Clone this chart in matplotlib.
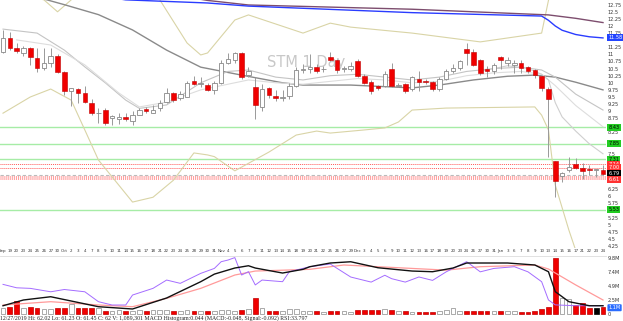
import matplotlib
matplotlib.use("Agg")
import matplotlib.pyplot as plt
import matplotlib.transforms as mtransforms
import numpy as np
import pandas as pd

# trading days shown on the chart
holidays = ["2019-11-28", "2019-12-25", "2020-01-01", "2020-01-20"]
dates = pd.bdate_range("2019-09-18", "2020-01-24")
dates = dates[~dates.isin(pd.to_datetime(holidays))]

opens = [11.08, 11.58, 11.21, 11.04, 11.22, 10.87, 10.52, 10.70, 10.95, 10.38,
         9.71, 9.78, 9.64, 9.28, 8.92, 9.03, 8.75, 8.71, 8.78, 8.65,
         8.87, 9.07, 8.93, 9.10, 9.32, 9.64, 9.45, 9.50, 10.05, 9.95,
         9.92, 9.75, 10.00, 10.70, 10.80, 11.05, 10.27, 9.85, 9.15, 9.80,
         9.52, 9.47, 9.55, 9.90, 10.45, 10.50, 10.55, 10.47, 10.90, 10.80,
         10.48, 10.50, 10.78, 10.24, 10.02, 9.88, 9.88, 10.50, 9.90, 9.97,
         9.78, 10.15, 10.07, 10.02, 9.78, 10.15, 10.42, 10.52, 11.20, 11.10,
         10.80, 10.49, 10.42, 10.90, 10.70, 10.62, 10.70, 10.55, 10.45, 10.24,
         9.78, 7.24, 6.72, 6.93, 7.14, 7.00, 6.97, 6.94, 6.93]
highs = [11.86, 11.79, 11.40, 11.28, 11.26, 11.22, 11.22, 11.22, 11.00, 10.40,
         9.80, 9.82, 9.87, 9.42, 9.10, 9.10, 8.88, 8.95, 8.95, 9.00,
         9.10, 9.15, 9.22, 9.40, 9.80, 9.68, 9.70, 10.05, 10.25, 10.20,
         10.00, 10.05, 10.80, 11.05, 11.10, 11.10, 10.55, 10.20, 9.95, 9.85,
         9.75, 9.75, 10.00, 10.55, 10.65, 11.00, 10.65, 10.60, 11.10, 10.85,
         10.60, 10.72, 10.85, 10.30, 10.10, 9.92, 10.40, 10.70, 10.00, 10.00,
         10.25, 10.40, 10.12, 10.07, 10.20, 10.50, 10.65, 10.80, 11.40, 11.20,
         10.85, 10.60, 10.70, 10.95, 10.90, 10.80, 10.80, 10.60, 10.50, 10.28,
         9.85, 7.25, 6.85, 7.38, 7.35, 7.17, 7.12, 6.96, 7.12]
lows = [11.05, 11.16, 11.05, 10.95, 10.62, 10.38, 10.45, 10.56, 10.35, 9.57,
        9.18, 9.28, 9.28, 8.88, 8.57, 8.50, 8.50, 8.55, 8.65, 8.50,
        8.85, 8.95, 8.93, 9.00, 9.28, 9.34, 9.38, 9.50, 9.92, 9.85,
        9.70, 9.62, 9.95, 10.65, 10.70, 10.15, 10.22, 8.72, 9.00, 9.48,
        9.35, 9.35, 9.43, 9.85, 10.35, 10.35, 10.35, 10.38, 10.75, 10.35,
        10.38, 10.42, 10.20, 9.95, 9.62, 9.75, 9.85, 9.85, 9.85, 9.63,
        9.72, 9.70, 9.95, 9.72, 9.72, 10.10, 10.35, 10.45, 10.62, 10.60,
        10.28, 10.20, 10.30, 10.50, 10.60, 10.35, 10.35, 10.35, 10.18, 9.72,
        7.38, 5.97, 6.50, 6.85, 6.95, 6.62, 6.75, 6.67, 6.74]
closes = [11.58, 11.23, 11.13, 11.24, 10.91, 10.52, 10.70, 10.95, 10.38, 9.71,
          9.80, 9.64, 9.32, 8.93, 8.95, 8.58, 8.82, 8.81, 8.72, 8.87,
          9.04, 9.00, 9.04, 9.28, 9.64, 9.40, 9.60, 10.00, 9.95, 9.98,
          9.75, 10.00, 10.70, 10.83, 11.06, 10.20, 10.42, 9.22, 9.78, 9.57,
          9.47, 9.50, 9.88, 10.45, 10.50, 10.55, 10.42, 10.50, 10.80, 10.45,
          10.50, 10.60, 10.24, 10.00, 9.72, 9.80, 10.30, 9.88, 9.93, 9.72,
          10.20, 10.03, 10.02, 9.78, 10.15, 10.40, 10.52, 10.78, 11.06, 10.62,
          10.35, 10.42, 10.62, 10.80, 10.80, 10.70, 10.52, 10.42, 10.27, 9.80,
          9.43, 6.54, 6.82, 7.03, 7.00, 6.90, 6.93, 6.95, 6.79]
volume_m = [1.0, 1.3, 2.2, 1.0, 1.3, 1.0, 0.9, 0.9, 1.0, 1.1,
            1.75, 1.0, 1.0, 1.1, 1.0, 0.6, 0.5, 0.7, 0.5, 0.5,
            0.7, 0.5, 0.7, 0.7, 0.7, 0.5, 0.6, 0.7, 0.6, 0.5,
            0.5, 0.5, 0.7, 0.7, 0.6, 0.7, 0.9, 2.75, 1.1, 0.5,
            0.5, 0.5, 0.9, 0.9, 0.6, 0.6, 0.6, 0.4, 0.6, 0.6,
            0.5, 0.4, 0.7, 0.7, 0.7, 0.7, 0.9, 0.7, 0.6, 0.5,
            0.4, 0.4, 0.4, 0.4, 0.6, 0.7, 1.0, 0.5, 0.6, 0.6,
            0.6, 0.5, 0.6, 0.6, 0.6, 0.5, 0.4, 0.4, 0.5, 0.9,
            1.3, 9.8, 2.8, 2.7, 1.55, 1.9, 1.1, 1.0, 1.2]
black_vol_bar = 87

# moving averages / bands (read at selected bars)
ma50_idx = [0, 6, 9, 14, 19, 24, 29, 35, 41, 44, 51, 60, 64, 69, 74, 78, 81, 84, 88]
ma50_val = [13.4, 12.95, 12.75, 12.40, 11.86, 11.15, 10.55, 10.27, 10.0, 9.92,
            9.92, 9.82, 9.92, 10.10, 10.23, 10.27, 10.2, 10.02, 9.75]
ma_a_idx = [0, 5, 9, 12, 15, 18, 20, 24, 29, 33, 36, 40, 44, 48, 52, 56, 60, 64, 68, 72, 76, 79, 81, 84, 88]
ma_a_val = [11.89, 11.75, 11.15, 10.56, 10.0, 9.39, 9.1, 9.22, 10.0, 10.4, 10.45, 10.2, 10.1,
            10.25, 10.3, 10.2, 10.1, 10.2, 10.4, 10.5, 10.55, 10.45, 10.2, 9.6, 9.04]
ma_b_idx = [2, 7, 12, 17, 20, 24, 29, 33, 36, 40, 44, 48, 52, 56, 60, 64, 68, 72, 76, 79, 81, 84, 88]
ma_b_val = [11.51, 11.33, 10.63, 9.64, 9.15, 9.32, 9.75, 9.95, 10.1, 10.0, 9.95, 10.05,
            10.15, 10.1, 10.0, 10.05, 10.25, 10.35, 10.4, 10.3, 9.9, 9.2, 8.45]
ma_c_idx = [70, 74, 77, 79, 80, 81, 82, 84, 86, 88]
ma_c_val = [10.4, 10.6, 10.5, 10.3, 10.1, 9.3, 8.8, 8.3, 7.85, 7.5]
blue_idx = [0, 10, 18, 30, 36, 60, 79, 80, 81, 82, 84, 86, 88]
blue_val = [13.6, 13.2, 12.92, 12.81, 12.7, 12.47, 12.35, 12.2, 12.0, 11.85, 11.7, 11.62, 11.58]
purple_idx = [0, 20, 30, 36, 60, 80, 84, 88]
purple_val = [14.0, 13.3, 12.9, 12.74, 12.59, 12.39, 12.27, 12.12]
bb_up_idx = [0, 3, 6, 8, 10, 13, 18, 23, 27, 29, 30, 34, 36, 44, 48, 51, 60, 70, 79, 80, 81, 84, 88]
bb_up_val = [13.4, 13.1, 12.92, 12.5, 12.92, 13.4, 13.5, 12.92, 11.4, 10.98, 11.05, 12.21,
             12.39, 11.75, 12.1, 11.96, 11.75, 11.44, 11.75, 12.9, 13.6, 14.2, 14.6]
bb_lo_idx = [0, 4, 7, 10, 12, 14, 19, 22, 25, 28, 30, 31, 34, 39, 43, 46, 48, 53, 56, 58,
             60, 65, 78, 79, 80, 81, 83, 84, 88]
bb_lo_val = [8.93, 9.5, 9.78, 9.39, 8.34, 7.28, 5.8, 5.97, 6.57, 7.53, 7.46, 7.4, 6.9, 7.56,
             8.16, 8.3, 8.23, 8.34, 8.41, 8.62, 9.04, 9.11, 9.15, 8.86, 8.34, 6.4, 4.81, 4.1, 3.3]

# horizontal levels
green_levels = [8.43, 7.85, 7.31, 5.53]
red_levels = [7.14, 7.00]
red_band = [6.72, 6.68, 6.64, 6.61]
grey_level = 6.76

# lower panel indicator lines
black_idx = [0, 3, 7, 14, 19, 24, 29, 31, 34, 36, 37, 41, 44, 45, 48, 51, 55, 60, 63, 66, 68, 74, 78, 80, 81, 83, 86, 88]
black_val = [1.45, 2.46, 3.03, 1.28, 0.88, 2.81, 5.67, 7.0, 8.07, 8.47, 8.07, 7.19, 7.84, 8.3,
             8.95, 9.17, 8.12, 7.54, 7.42, 8.07, 8.95, 8.95, 8.6, 7.42, 3.92, 2.16, 1.45, 1.45]
pink_idx = [0, 7, 14, 19, 24, 29, 34, 37, 45, 50, 65, 70, 78, 80, 84, 88]
pink_val = [1.58, 2.16, 1.58, 1.28, 2.75, 4.5, 6.84, 7.54, 7.84, 8.6, 7.7, 8.3, 8.6, 7.9, 5.1, 2.46]
violet_idx = [0, 2, 4, 7, 9, 12, 14, 16, 18, 19, 22, 24, 26, 29, 31, 32, 33, 34, 35, 36, 37, 38,
              41, 42, 45, 48, 51, 54, 56, 57, 59, 61, 63, 65, 68, 70, 72, 75, 77, 79, 80, 81, 84, 88]
violet_val = [5.2, 4.6, 4.5, 3.9, 4.3, 3.9, 2.16, 1.58, 1.58, 3.33, 4.5, 5.96, 5.38, 7.13, 8.0,
              9.18, 9.47, 9.9, 6.84, 7.43, 5.1, 5.96, 5.67, 7.43, 8.3, 8.77, 6.49, 5.6, 6.8, 6.2,
              5.6, 6.5, 5.9, 7.4, 9.18, 7.4, 8.0, 8.3, 7.4, 5.67, 2.46, 1.6, 1.45, 1.45]

price_ticks = [12.75, 12.5, 12.25, 12, 11.75, 11.25, 11, 10.75, 10.5, 10.25, 10, 9.75, 9.5,
               9.25, 9, 8.75, 8.25, 7.5, 6.25, 6, 5.75, 5.25, 5, 4.75, 4.5, 4.25]
vol_ticks = [0, 2.45, 4.9, 7.35, 9.8]
vol_tick_labels = ["0", "2.5M", "4.9M", "7.4M", "9.8M"]

info_text = ("12/27/2019 Hi: 62.02 Lo: 61.23 O: 61.45 C: 62 V: 1,089,301 "
             "MACD Histogram:0.044 (MACD:-0.048, Signal:-0.092) RSI:33.797")

W, H = 623, 321
fig = plt.figure(figsize=(W / 100, H / 100), dpi=100)
fig.patch.set_facecolor("white")
ax = fig.add_axes([0, 1 - 248 / H, 606 / W, 248 / H])
ax2 = fig.add_axes([0, 1 - 315 / H, 606 / W, 59 / H])

n = len(closes)
x = np.arange(n)
o = np.array(opens); c = np.array(closes)
down = c < o

# price panel
for lv in green_levels:
    ax.axhline(lv, color="#a6ecA6", lw=1.0, zorder=1)
for lv in red_levels:
    ax.axhline(lv, color="#ff5a5a", lw=0.7, ls=(0, (1, 1)), zorder=1)
for lv in red_band:
    ax.axhline(lv, color="#ff9a9a", lw=0.7, ls=(0, (1, 1)), zorder=1)
ax.axhline(grey_level, color="#bbbbbb", lw=0.8, ls=(0, (3, 2)), zorder=1)

ax.plot(bb_up_idx, bb_up_val, color="#d9d4a6", lw=0.8, zorder=2)
ax.plot(bb_lo_idx, bb_lo_val, color="#d9d4a6", lw=0.8, zorder=2)
ax.plot(purple_idx, purple_val, color="#7d4d6e", lw=1.0, zorder=2)
ax.plot(blue_idx, blue_val, color="#2a3cff", lw=1.0, zorder=2)
ax.plot(ma50_idx, ma50_val, color="#8a8a8a", lw=1.0, zorder=2)
ax.plot(ma_a_idx, ma_a_val, color="#c4c4c4", lw=0.8, zorder=2)
ax.plot(ma_b_idx, ma_b_val, color="#dddddd", lw=0.8, zorder=2)
ax.plot(ma_c_idx, ma_c_val, color="#cfcfcf", lw=0.8, zorder=2)

ax.text(44.5, 10.72, "STM 1 Day", fontsize=10.5, color="#c8c8c8", ha="center", va="center", zorder=2)

ax.vlines(x, lows, highs, color="#999999", lw=0.7, zorder=3)
body_lo = np.minimum(o, c)
body_h = np.maximum(np.abs(c - o), 0.025)
ax.bar(x[~down], body_h[~down], bottom=body_lo[~down], width=0.66, color="white",
       edgecolor="#888888", lw=0.6, zorder=4)
ax.bar(x[down], body_h[down], bottom=body_lo[down], width=0.66, color="#f00000",
       edgecolor="#c00000", lw=0.4, zorder=4)

ax.set_xlim(-0.44, 88.44)
ax.set_ylim(4.183, 12.915)
for s in ax.spines.values():
    s.set_visible(False)
ax.yaxis.tick_right()
ax.set_yticks(price_ticks)
ax.set_yticklabels([f"{t:g}" for t in price_ticks])
ax.tick_params(axis="y", length=0, pad=1, labelsize=3.6, labelcolor="#333333")

labels = []
prev_month = None
for d in dates:
    if d.month != prev_month:
        labels.append(d.strftime("%b"))
    else:
        labels.append(str(d.day))
    prev_month = d.month
ax.set_xticks(x)
ax.set_xticklabels(labels)
ax.tick_params(axis="x", length=0, pad=0.8, labelsize=2.9, labelcolor="#333333")

trans = mtransforms.blended_transform_factory(ax.transAxes, ax.transData)
highlights = [(11.58, "11.58", "#2244ff", "white"), (8.43, "8.43", "#22cc22", "black"),
              (7.85, "7.85", "#22cc22", "black"), (7.31, "7.31", "#22cc22", "black"),
              (7.14, "7.14", "#ff3333", "white"), (7.00, "7.00", "#ff3333", "white"),
              (6.79, "6.79", "black", "white"), (6.61, "6.61", "#ff3333", "white"),
              (5.53, "5.53", "#22cc22", "black")]
for val, txt, bg, fg in highlights:
    ax.text(1.004, val, txt, transform=trans, fontsize=3.6, color=fg, ha="left", va="center",
            clip_on=False, zorder=6,
            bbox=dict(boxstyle="square,pad=0.2", fc=bg, ec="none"))

# lower panel
vcol = np.where(down, "#f00000", "white")
vedge = np.where(down, "#c00000", "#888888")
vcol[black_vol_bar] = "black"; vedge[black_vol_bar] = "black"
ax2.bar(x, volume_m, width=0.7, color=vcol, edgecolor=vedge, lw=0.5, zorder=2)
ax2.plot(pink_idx, pink_val, color="#ff9a9a", lw=0.9, zorder=3)
ax2.plot(violet_idx, violet_val, color="#a46cff", lw=0.7, zorder=3)
ax2.plot(black_idx, black_val, color="#111111", lw=1.0, zorder=4)
ax2.set_xlim(-0.44, 88.44)
ax2.set_ylim(-0.175, 10.18)
for k, s in ax2.spines.items():
    s.set_visible(k == "top")
ax2.spines["top"].set_color("#dddddd")
ax2.spines["top"].set_linewidth(0.6)
ax2.set_xticks([])
ax2.yaxis.tick_right()
ax2.set_yticks(vol_ticks)
ax2.set_yticklabels(vol_tick_labels)
ax2.tick_params(axis="y", length=0, pad=1, labelsize=3.6, labelcolor="#333333")
trans2 = mtransforms.blended_transform_factory(ax2.transAxes, ax2.transData)
ax2.text(1.004, 1.1, "1.1M", transform=trans2, fontsize=3.6, color="white", ha="left",
         va="center", clip_on=False, zorder=6,
         bbox=dict(boxstyle="round,pad=0.2", fc="#2a6cff", ec="none"))

fig.text(0.0, 1 - 318 / H, info_text, fontsize=4.2, family="Liberation Serif",
         color="#222222", ha="left", va="center")

fig.savefig("out.png", dpi=100, facecolor="white")
